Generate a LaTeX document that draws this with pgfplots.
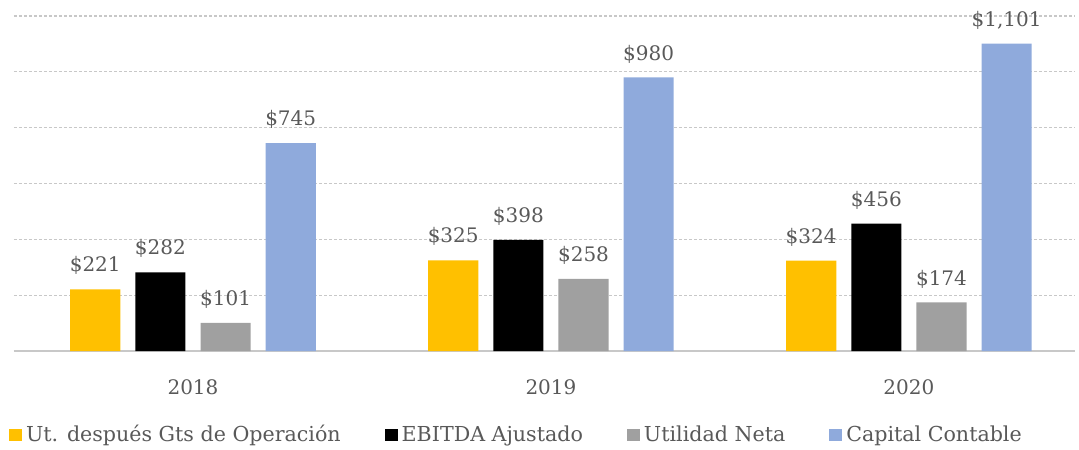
\documentclass[border=0pt]{standalone}
\usepackage{pgfplots}
\pgfplotsset{compat=1.18}
\usepackage{fontspec}
\setmainfont{DejaVu Serif}
\definecolor{cyel}{HTML}{FFC000}
\definecolor{cgray}{HTML}{A0A0A0}
\definecolor{cblue}{HTML}{8FAADC}
\definecolor{ctext}{HTML}{595959}
\definecolor{cgrid}{HTML}{C8C8C8}
\begin{document}
\begin{tikzpicture}
\useasboundingbox (-7pt,-49pt) rectangle (532.5pt,175.5pt);
\begin{axis}[
  at={(0,0)}, anchor=south west,
  scale only axis, width=530.5pt, height=167.5pt,
  xmin=-0.5, xmax=2.464, ymin=0, ymax=1200,
  ytick={0,200,...,1200}, yticklabels={},
  ymajorgrids, grid style={cgrid, dash pattern=on 1.5pt off 1pt, line width=0.6pt},
  axis x line=bottom, axis y line=left,
  x axis line style={draw=cgrid, line width=0.8pt, -},
  y axis line style={draw=none},
  ytick style={draw=none},
  xtick={0,1,2}, xticklabels={2018,2019,2020},
  major x tick style={draw=none},
  extra x ticks={-0.5,0.5,1.5}, extra x tick labels={},
  extra x tick style={grid=none, tick style={draw=cgrid, line width=0.8pt}, major tick length=4pt, tick align=outside},
  xticklabel style={font=\fontsize{10}{12}\selectfont, text=ctext, inner sep=0pt, yshift=-10pt},
  ybar, bar width=0.14,
  nodes near coords={\$\pgfmathprintnumber{\pgfplotspointmeta}},
  every node near coord/.append style={font=\fontsize{10}{12}\selectfont, text=ctext, inner sep=0pt, anchor=south, yshift=7pt},
  /pgf/number format/assume math mode=true,
  /pgf/number format/1000 sep={,},
  legend columns=4,
  legend style={at={(0.4745,-0.2507)}, anchor=center, draw=none, font=\fontsize{10.3}{12}\selectfont, text=ctext,
    /tikz/every even column/.append style={column sep=20pt}},
  legend image code/.code={\fill[#1,draw=none] (0pt,-3.2pt) rectangle (6.5pt,3.2pt);},
]
\addplot[fill=cyel, draw=none, bar shift=-0.273] coordinates {(0,221) (1,325) (2,324)};
\addplot[fill=black, draw=none, bar shift=-0.091] coordinates {(0,282) (1,398) (2,456)};
\addplot[fill=cgray, draw=none, bar shift=0.091] coordinates {(0,101) (1,258) (2,174)};
\addplot[fill=cblue, draw=none, bar shift=0.273] coordinates {(0,745) (1,980) (2,1101)};
\legend{Ut. después Gts de Operación, EBITDA Ajustado, Utilidad Neta, Capital Contable}
\end{axis}
\end{tikzpicture}
\end{document}
